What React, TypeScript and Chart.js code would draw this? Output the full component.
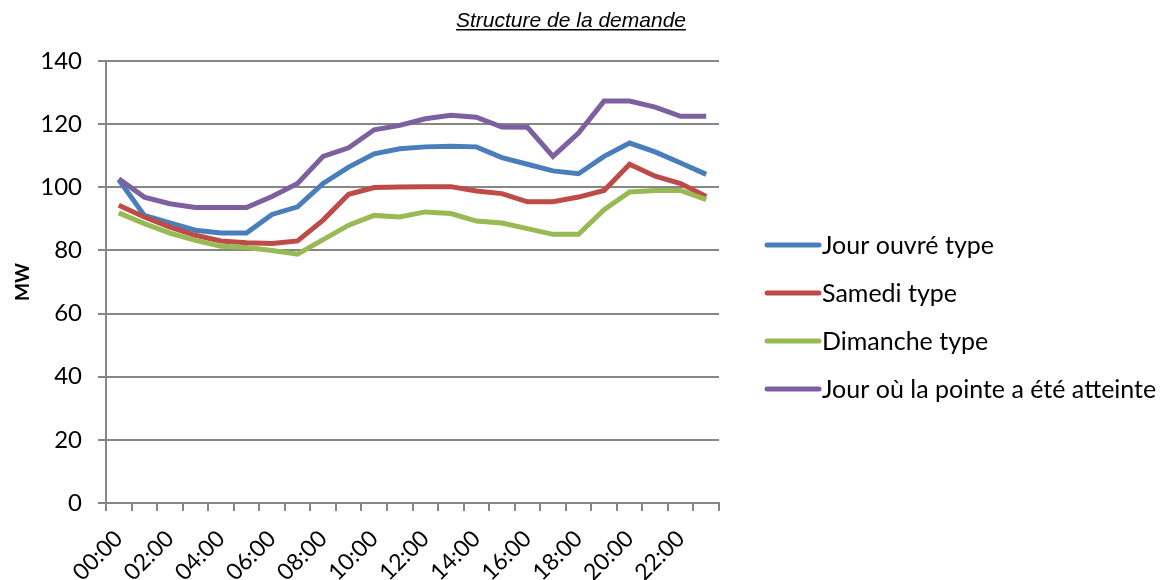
import { useEffect, useRef } from "react";
import { Chart, registerables } from "chart.js";

Chart.register(...registerables);

const TITLE = "Structure de la demande";
const Y_TITLE = "MW";

const categories = [
  "00:00", "01:00", "02:00", "03:00", "04:00", "05:00", "06:00", "07:00",
  "08:00", "09:00", "10:00", "11:00", "12:00", "13:00", "14:00", "15:00",
  "16:00", "17:00", "18:00", "19:00", "20:00", "21:00", "22:00", "23:00",
];

const jourOuvre = [102.4, 91.1, 88.7, 86.4, 85.5, 85.5, 91.4, 93.8, 101.2, 106.4, 110.6, 112.2, 112.8, 113, 112.8, 109.4, 107.3, 105.2, 104.3, 109.8, 114, 111.2, 107.7, 104.1];
const samedi = [94.3, 90.6, 87.4, 84.8, 83, 82.4, 82.2, 83, 89.6, 97.8, 99.9, 100.1, 100.2, 100.2, 98.8, 98, 95.4, 95.4, 96.9, 99, 107.3, 103.5, 101.2, 97.1];
const dimanche = [91.9, 88.5, 85.5, 83.2, 81.3, 80.9, 80, 78.8, 83.4, 88, 91.1, 90.6, 92.2, 91.7, 89.3, 88.7, 86.9, 85.1, 85.1, 92.9, 98.5, 99, 99, 96.1];
const pointe = [102.7, 96.9, 94.8, 93.6, 93.6, 93.6, 97.1, 101.2, 109.8, 112.5, 118.2, 119.6, 121.7, 122.8, 122.2, 119.1, 119, 109.8, 117.2, 127.3, 127.3, 125.4, 122.5, 122.5];

const seriesLabels = ["Jour ouvré type", "Samedi type", "Dimanche type", "Jour où la pointe a été atteinte"];
const seriesColors = ["#4A7EBB", "#BE4B48", "#98B954", "#7D60A0"];

const GRID = "#868686";
const FONT = "Lato";

const decorPlugin = {
  id: "decor",
  afterDraw(chart: any) {
    const ctx = chart.ctx as CanvasRenderingContext2D;
    ctx.save();
    // title
    ctx.font = "italic 21px 'Liberation Sans'";
    ctx.fillStyle = "#000";
    ctx.textAlign = "center";
    ctx.textBaseline = "alphabetic";
    const tx = 571;
    const ty = 27;
    ctx.fillText(TITLE, tx, ty);
    const w = ctx.measureText(TITLE).width;
    ctx.fillRect(tx - w / 2, ty + 2, w, 1.5);
    // legend
    chart.data.datasets.forEach((ds: any, i: number) => {
      const y = 245 + i * 48;
      ctx.strokeStyle = ds.borderColor;
      ctx.lineWidth = 5;
      ctx.lineCap = "round";
      ctx.beginPath();
      ctx.moveTo(767, y);
      ctx.lineTo(819, y);
      ctx.stroke();
      ctx.font = `25px ${FONT}`;
      ctx.fillStyle = "#000";
      ctx.textAlign = "left";
      ctx.textBaseline = "middle";
      ctx.fillText(ds.label, 822, y + 1);
    });
    ctx.restore();
  },
};

export default function App() {
  const ref = useRef<HTMLCanvasElement | null>(null);

  useEffect(() => {
    document.body.style.margin = "0";
    const canvas = ref.current;
    if (!canvas) return;
    const values = [jourOuvre, samedi, dimanche, pointe];
    const orders = [4, 3, 2, 1];
    const chart = new Chart(canvas, {
      type: "line",
      data: {
        labels: categories,
        datasets: values.map((v, i) => ({
          label: seriesLabels[i],
          data: v,
          borderColor: seriesColors[i],
          backgroundColor: seriesColors[i],
          borderWidth: 5,
          pointRadius: 0,
          tension: 0,
          fill: false,
          order: orders[i],
        })),
      },
      options: {
        responsive: false,
        animation: false,
        layout: { padding: { top: 61, right: 444, bottom: 0, left: 0 } },
        plugins: {
          legend: { display: false },
          tooltip: { enabled: false },
          title: { display: false },
        },
        scales: {
          x: {
            offset: true,
            grid: {
              offset: true,
              drawOnChartArea: false,
              drawTicks: true,
              tickLength: 8,
              color: GRID,
              lineWidth: 2,
            },
            border: { color: GRID, width: 2 },
            ticks: {
              autoSkip: false,
              maxRotation: 45,
              minRotation: 45,
              padding: 14,
              color: "#000",
              font: { family: FONT, size: 23 },
              callback: (_v: any, i: number) => (i % 2 === 0 ? categories[i] : ""),
            },
            afterFit: (s: any) => {
              s.height = 77;
            },
          },
          y: {
            min: 0,
            max: 140,
            ticks: {
              stepSize: 20,
              padding: 16,
              color: "#000",
              font: { family: FONT, size: 24 },
            },
            grid: {
              color: GRID,
              lineWidth: 2,
              tickLength: 8,
            },
            border: { color: GRID, width: 2 },
            title: {
              display: true,
              text: Y_TITLE,
              color: "#000",
              font: { family: FONT, size: 19, weight: "bold" },
              padding: { top: 11, bottom: 0 },
            },
            afterFit: (s: any) => {
              s.width = 106;
            },
          },
        },
      },
      plugins: [decorPlugin],
    });
    return () => chart.destroy();
  }, []);

  return (
    <div style={{ width: 1163, height: 580 }}>
      <canvas ref={ref} width={1163} height={580} style={{ display: "block" }} />
    </div>
  );
}
